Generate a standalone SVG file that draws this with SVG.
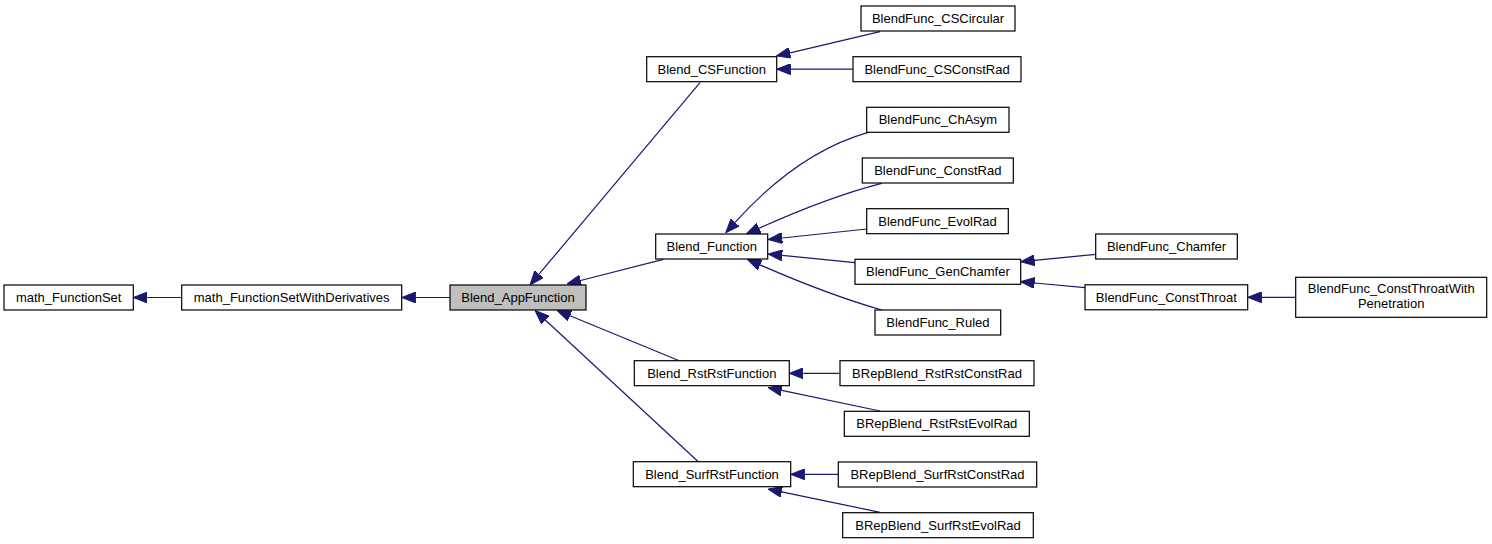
<svg xmlns="http://www.w3.org/2000/svg" width="1492" height="544" viewBox="0 0 1492 544">
<style>
.n rect{fill:#fff;stroke:#000;stroke-width:1.2}
.n.g rect{fill:#bfbfbf}
.n text{font-family:"Liberation Sans",Arial,Helvetica,sans-serif;font-size:13px;fill:#000;text-anchor:middle}
.e path{fill:none;stroke:#191970;stroke-width:1.2;marker-end:url(#ah)}
</style>
<defs>
<marker id="ah" viewBox="0 -5.5 14 11" refX="0" refY="0" markerWidth="14" markerHeight="11" markerUnits="userSpaceOnUse" orient="auto">
<path d="M0,-5.5 L14,0 L0,5.5 Z" fill="#191970" stroke="#191970" stroke-width="1"/>
</marker>
</defs>
<rect width="1492" height="544" fill="#fff"/>
<g id="edges" class="e">
<path d="M181.7,297.5 L147.3,297.5"/>
<path d="M450,297.5 L415.7,297.5"/>
<path d="M700,82.7 L539,274.2"/>
<path d="M663.3,259.3 L580.6,280.5"/>
<path d="M679.3,360.7 L570,315.8"/>
<path d="M698.3,461.7 L545.3,320"/>
<path d="M880,31.7 L790.1,52.8"/>
<path d="M852.7,69.2 L790.7,69.2"/>
<path d="M868.3,132.3 C820,146 775,178 735.1,222.4"/>
<path d="M881.7,183.3 C840,194 795,212 759.1,228.2"/>
<path d="M866.7,229 L782.2,238"/>
<path d="M855,262.7 L782.2,255.4"/>
<path d="M881.7,310 C840,298 797,281 760.1,264.9"/>
<path d="M1095.7,254.3 L1034.6,260.3"/>
<path d="M1085,287.7 L1034.6,283"/>
<path d="M1295.7,297.3 L1261.7,297.3"/>
<path d="M839.3,373.3 L803.3,373.3"/>
<path d="M880,411 L781.7,390.4"/>
<path d="M838.3,474.3 L804.7,474.3"/>
<path d="M880,512.3 L781.7,491.9"/>
</g>
<g id="math_FunctionSet" class="n"><rect x="4" y="285" width="129.3" height="25"/><text x="68.7" y="302">math_FunctionSet</text></g>
<g id="math_FunctionSetWithDerivatives" class="n"><rect x="181.7" y="285" width="220" height="25"/><text x="291.7" y="302">math_FunctionSetWithDerivatives</text></g>
<g id="Blend_AppFunction" class="n g"><rect x="450" y="285" width="136" height="25"/><text x="518" y="302">Blend_AppFunction</text></g>
<g id="Blend_CSFunction" class="n"><rect x="646.7" y="56.7" width="130" height="25"/><text x="711.7" y="73.7">Blend_CSFunction</text></g>
<g id="Blend_Function" class="n"><rect x="655.7" y="234" width="112" height="25"/><text x="711.7" y="251">Blend_Function</text></g>
<g id="Blend_RstRstFunction" class="n"><rect x="634.3" y="360.7" width="155" height="25"/><text x="711.8" y="377.7">Blend_RstRstFunction</text></g>
<g id="Blend_SurfRstFunction" class="n"><rect x="633.3" y="461.7" width="157.4" height="25"/><text x="712" y="478.7">Blend_SurfRstFunction</text></g>
<g id="BlendFunc_CSCircular" class="n"><rect x="861" y="6" width="154" height="25"/><text x="938" y="23">BlendFunc_CSCircular</text></g>
<g id="BlendFunc_CSConstRad" class="n"><rect x="853" y="56.7" width="168" height="25"/><text x="937" y="73.7">BlendFunc_CSConstRad</text></g>
<g id="BlendFunc_ChAsym" class="n"><rect x="866.7" y="107.3" width="142.3" height="25"/><text x="937.9" y="124.3">BlendFunc_ChAsym</text></g>
<g id="BlendFunc_ConstRad" class="n"><rect x="862.3" y="158" width="151" height="25"/><text x="937.8" y="175">BlendFunc_ConstRad</text></g>
<g id="BlendFunc_EvolRad" class="n"><rect x="866.7" y="208.7" width="141.6" height="25"/><text x="937.5" y="225.7">BlendFunc_EvolRad</text></g>
<g id="BlendFunc_GenChamfer" class="n"><rect x="855" y="259.3" width="165.7" height="25"/><text x="937.9" y="276.3">BlendFunc_GenChamfer</text></g>
<g id="BlendFunc_Ruled" class="n"><rect x="875" y="310" width="125.7" height="25"/><text x="937.9" y="327">BlendFunc_Ruled</text></g>
<g id="BRepBlend_RstRstConstRad" class="n"><rect x="840" y="360.7" width="194" height="25"/><text x="937" y="377.7">BRepBlend_RstRstConstRad</text></g>
<g id="BRepBlend_RstRstEvolRad" class="n"><rect x="844.3" y="411.3" width="185" height="25"/><text x="936.8" y="428.3">BRepBlend_RstRstEvolRad</text></g>
<g id="BRepBlend_SurfRstConstRad" class="n"><rect x="838.3" y="462" width="198.4" height="25"/><text x="937.5" y="479">BRepBlend_SurfRstConstRad</text></g>
<g id="BRepBlend_SurfRstEvolRad" class="n"><rect x="842.7" y="512.7" width="190.6" height="25"/><text x="938" y="529.7">BRepBlend_SurfRstEvolRad</text></g>
<g id="BlendFunc_Chamfer" class="n"><rect x="1095.7" y="234" width="141.6" height="25"/><text x="1166.5" y="251">BlendFunc_Chamfer</text></g>
<g id="BlendFunc_ConstThroat" class="n"><rect x="1085" y="284.8" width="162.7" height="25"/><text x="1166.3" y="301.8">BlendFunc_ConstThroat</text></g>
<g id="BlendFunc_ConstThroatWithPenetration" class="n"><rect x="1295.7" y="277.3" width="191" height="40"/><text x="1391.2" y="293">BlendFunc_ConstThroatWith</text><text x="1391.2" y="308">Penetration</text></g>
</svg>
